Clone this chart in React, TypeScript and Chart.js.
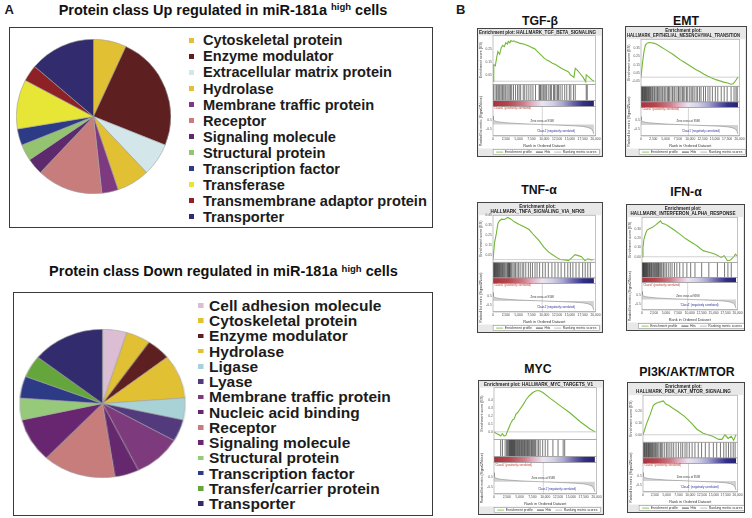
import React, { useEffect, useRef } from 'react';
import { Chart, registerables } from 'chart.js';

Chart.register(...registerables);
Chart.defaults.font.family = '"Liberation Sans", Arial, Helvetica, sans-serif';

// ---------- Panel A data ----------
const upLabels = ['Cytoskeletal protein', 'Enzyme modulator', 'Extracellular matrix protein', 'Hydrolase', 'Membrane traffic protein', 'Receptor', 'Signaling molecule', 'Structural protein', 'Transcription factor', 'Transferase', 'Transmembrane adaptor protein', 'Transporter'];
const upValues = [2, 7, 2, 2, 1, 4, 1, 1, 1, 3, 1, 4];
const upColors = ['#E2C033', '#5E1F20', '#D3E6EA', '#E2C033', '#7E3A80', '#C77D7C', '#5D2A6C', '#94C470', '#2D3A86', '#E7E535', '#8E2125', '#322C6E'];

const downLabels = ['Cell adhesion molecule', 'Cytoskeletal protein', 'Enzyme modulator', 'Hydrolase', 'Ligase', 'Lyase', 'Membrane traffic protein', 'Nucleic acid binding', 'Receptor', 'Signaling molecule', 'Structural protein', 'Transcription factor', 'Transfer/carrier protein', 'Transporter'];
const downValues = [1, 1, 1, 2, 1, 1, 2, 1, 3, 2, 1, 1, 1, 3];
const downColors = ['#DBBDD4', '#E2C033', '#5E1F20', '#E2C033', '#A9D2D6', '#533A7C', '#7D3A7C', '#65276E', '#C77D7C', '#67266F', '#97C97A', '#2D3A86', '#65A63C', '#322C6E'];

// ---------- Panel B data ----------
const rankTicks = [0, 2500, 5000, 7500, 10000, 12500, 15000, 17500, 20000];
const legendLabels = ['Enrichment profile', 'Hits', 'Ranking metric scores'];
const metricRank = [0, 100, 300, 800, 1500, 3000, 5000, 7500, 9598, 12000, 14000, 16000, 17500, 18500, 19200, 19500, 19700];
const metricValue = [0.9, 0.5, 0.38, 0.3, 0.24, 0.17, 0.1, 0.04, 0, -0.05, -0.09, -0.14, -0.2, -0.3, -0.45, -0.7, -1.0];

const tgfRank = [0, 150, 450, 700, 950, 1300, 1600, 1900, 2200, 2500, 2800, 3000, 3300, 3500, 3800, 4100, 4400, 4700, 5300, 6000, 6600, 7200, 7700, 8100, 8600, 9000, 9500, 10000, 10500, 11000, 11600, 12200, 12800, 13400, 13900, 14400, 14800, 15100, 15500, 15800, 16050, 16500, 17000, 17600, 18100, 18200, 18800, 19300, 19700];
const tgfES = [0, 0.13, 0.12, 0.18, 0.23, 0.21, 0.26, 0.28, 0.27, 0.3, 0.29, 0.31, 0.3, 0.317, 0.31, 0.315, 0.306, 0.305, 0.295, 0.29, 0.28, 0.27, 0.26, 0.255, 0.235, 0.22, 0.2, 0.18, 0.165, 0.155, 0.14, 0.13, 0.115, 0.1, 0.09, 0.08, 0.07, 0.05, 0.04, 0.03, 0.1, 0.085, 0.06, 0.03, -0.005, 0.05, 0.03, 0.01, 0];
const tgfHits = [100, 400, 700, 950, 1150, 1350, 1600, 1850, 2100, 2350, 2550, 2900, 3150, 3400, 3650, 4000, 4400, 4800, 5100, 5400, 5900, 6200, 6600, 7000, 7400, 7800, 8300, 9000, 9150, 9300, 9550, 9800, 10000, 10300, 10500, 10900, 11200, 11400, 11800, 12000, 12300, 12600, 12800, 13100, 13500, 14000, 14400, 14900, 15200, 15700, 16050, 18200, 18400];

const emtRank = [0, 300, 600, 900, 1200, 1600, 2100, 2700, 3300, 4000, 4800, 5600, 6400, 7200, 8000, 8800, 9600, 10400, 11200, 12000, 12800, 13600, 14400, 15200, 16000, 16800, 17600, 18300, 18700, 19000, 19300, 19700];
const emtES = [0, 0.17, 0.31, 0.39, 0.41, 0.42, 0.418, 0.41, 0.395, 0.37, 0.34, 0.31, 0.28, 0.245, 0.21, 0.18, 0.15, 0.12, 0.09, 0.065, 0.035, 0.01, -0.01, -0.03, -0.045, -0.06, -0.07, -0.085, -0.08, -0.06, -0.035, 0];
const emtHits = [40, 130, 260, 330, 450, 560, 690, 780, 900, 1010, 1150, 1230, 1380, 1500, 1640, 1790, 1900, 2080, 2300, 2450, 2700, 2850, 3100, 3350, 3520, 3800, 4050, 4300, 4480, 4800, 5050, 5350, 5600, 5750, 6100, 6400, 6700, 6900, 7300, 7600, 7750, 8100, 8400, 8600, 8900, 9250, 9500, 9900, 10200, 10500, 10800, 11200, 11500, 11900, 12200, 12700, 13100, 13600, 14000, 14500, 15100, 15600, 16300, 16900, 17500, 18300, 18900, 19300, 19550];

const tnfRank = [0, 320, 640, 960, 1280, 1730, 2240, 2880, 3520, 4160, 5120, 6080, 7040, 8000, 8960, 9920, 10880, 11840, 12500, 13120, 14080, 14720, 15360, 16000, 16640, 17280, 17920, 18560, 19200, 19600];
const tnfES = [0, 0.178, 0.26, 0.366, 0.394, 0.41, 0.407, 0.428, 0.41, 0.383, 0.356, 0.332, 0.305, 0.247, 0.195, 0.127, 0.075, 0.041, 0.02, 0, -0.003, -0.01, 0.017, 0.05, 0.04, 0.03, -0.01, 0.007, -0.003, 0];
const tnfHits = [60, 150, 260, 350, 420, 540, 620, 730, 850, 960, 1040, 1180, 1300, 1420, 1560, 1700, 1850, 2000, 2150, 2300, 2500, 2700, 2850, 3000, 3100, 3200, 3300, 3450, 3650, 3900, 4150, 4400, 4700, 5000, 5300, 5700, 6000, 6400, 6900, 7300, 7700, 8200, 8600, 9100, 9700, 10200, 10800, 11500, 12100, 12700, 13300, 14000, 14600, 15100, 15600, 16200, 16800, 17500, 18000, 18500, 19000];

const ifnRank = [0, 200, 400, 740, 1070, 1540, 2200, 2870, 3540, 3870, 4200, 4870, 5500, 6200, 6900, 7550, 8200, 8900, 9500, 10230, 10900, 11570, 12200, 12900, 13600, 14230, 14900, 15570, 16570, 17230, 17900, 18570, 19230, 19570, 19900];
const ifnES = [0, 0.1, 0.19, 0.25, 0.29, 0.305, 0.32, 0.347, 0.376, 0.39, 0.365, 0.355, 0.335, 0.31, 0.285, 0.26, 0.235, 0.205, 0.185, 0.16, 0.14, 0.117, 0.09, 0.064, 0.055, 0.046, 0.035, 0.021, -0.007, 0.011, -0.043, -0.035, 0, 0.028, 0.01];
const ifnHits = [50, 120, 200, 300, 380, 450, 550, 650, 760, 850, 950, 1070, 1180, 1300, 1450, 1560, 1700, 1850, 2000, 2150, 2350, 2500, 2650, 2850, 3000, 3150, 3300, 3450, 3600, 3800, 4000, 4200, 4500, 4800, 5100, 5500, 5900, 6300, 6800, 7300, 7900, 8600, 9400, 10200, 11100, 12500, 14000, 15800, 17300, 18000, 18700];

const mycRank = [0, 460, 990, 1320, 1640, 1970, 2300, 2630, 2960, 3290, 3620, 3950, 4280, 4600, 4930, 5600, 6250, 6900, 7570, 8230, 8880, 9540, 10860, 12830, 14800, 16780, 18750, 19740];
const mycES = [0, -0.02, -0.036, -0.052, -0.024, -0.052, -0.044, 0.008, 0.06, 0.109, 0.149, 0.161, 0.222, 0.238, 0.27, 0.33, 0.4, 0.45, 0.49, 0.512, 0.512, 0.49, 0.423, 0.33, 0.238, 0.129, 0.036, 0];
const mycHits = [1300, 1650, 2170, 2450, 2650, 2800, 2950, 3050, 3150, 3250, 3350, 3450, 3550, 3650, 3750, 3850, 3950, 4050, 4150, 4300, 4450, 4550, 4700, 4850, 4950, 5100, 5250, 5400, 5500, 5650, 5800, 5950, 6100, 6250, 6400, 6550, 6700, 6850, 7000, 7200, 7350, 7500, 7700, 7900, 8100, 8400, 8700, 9000, 9500, 10000, 10500, 11500, 12500, 13500, 13800];

const piRank = [0, 330, 725, 1190, 1520, 1850, 2180, 2510, 3170, 3830, 4290, 4820, 5480, 6470, 7460, 8780, 10100, 11420, 12740, 13730, 14720, 16040, 16700, 17360, 18020, 18680, 19200, 19670];
const piES = [0, 0.04, 0.09, 0.14, 0.17, 0.21, 0.247, 0.26, 0.273, 0.28, 0.286, 0.26, 0.247, 0.22, 0.195, 0.156, 0.104, 0.047, 0.013, 0, -0.013, -0.039, -0.039, 0, -0.031, -0.013, -0.047, 0];
const piHits = [80, 200, 330, 450, 600, 720, 850, 1000, 1150, 1250, 1400, 1550, 1700, 1850, 2000, 2200, 2400, 2600, 2750, 2950, 3150, 3400, 3700, 3950, 4200, 4600, 5000, 5300, 5700, 6100, 6500, 7000, 7500, 8000, 8400, 8900, 9300, 9800, 10400, 11000, 11700, 12400, 13200, 14000, 14900, 15600, 16400, 17100, 17600, 18100, 18600, 19100, 19500];

const FONT = '"Liberation Sans", Arial, Helvetica, sans-serif';
const ZERO_CROSS = 9598;
const ES_COLOR = '#72b836';

type Panel = {
  title: string; titleX: number; titleBase: number;
  box: [number, number, number, number];
  header: string[];
  rank: number[]; es: number[]; hits: number[];
  esMin: number; esMax: number; esStep: number; dec: number;
};

const panels: Panel[] = [
  { title: 'TGF-β', titleX: 540, titleBase: 25, box: [477, 28, 126, 129], header: ['Enrichment plot: HALLMARK_TGF_BETA_SIGNALING'], rank: tgfRank, es: tgfES, hits: tgfHits, esMin: -0.025, esMax: 0.355, esStep: 0.05, dec: 2 },
  { title: 'EMT', titleX: 686, titleBase: 25, box: [625, 26, 122, 131], header: ['Enrichment plot:', 'HALLMARK_EPITHELIAL_MESENCHYMAL_TRANSITION'], rank: emtRank, es: emtES, hits: emtHits, esMin: -0.11, esMax: 0.46, esStep: 0.05, dec: 2 },
  { title: 'TNF-α', titleX: 539, titleBase: 194, box: [477, 202, 126, 131], header: ['Enrichment plot:', 'HALLMARK_TNFA_SIGNALING_VIA_NFKB'], rank: tnfRank, es: tnfES, hits: tnfHits, esMin: -0.027, esMax: 0.45, esStep: 0.05, dec: 2 },
  { title: 'IFN-α', titleX: 686, titleBase: 196.5, box: [626, 204, 119, 127], header: ['Enrichment plot:', 'HALLMARK_INTERFERON_ALPHA_RESPONSE'], rank: ifnRank, es: ifnES, hits: ifnHits, esMin: -0.06, esMax: 0.43, esStep: 0.05, dec: 2 },
  { title: 'MYC', titleX: 538, titleBase: 373, box: [478, 380, 126, 135], header: ['Enrichment plot: HALLMARK_MYC_TARGETS_V1'], rank: mycRank, es: mycES, hits: mycHits, esMin: -0.093, esMax: 0.55, esStep: 0.1, dec: 1 },
  { title: 'PI3K/AKT/MTOR', titleX: 687, titleBase: 376.5, box: [627, 382, 118, 131], header: ['Enrichment plot:', 'HALLMARK_PI3K_AKT_MTOR_SIGNALING'], rank: piRank, es: piES, hits: piHits, esMin: -0.063, esMax: 0.334, esStep: 0.05, dec: 2 },
];

function T(props: { x: number; base: number; size: number; children: any; align?: 'left' | 'center'; weight?: string; color?: string }) {
  const { x, base, size, children, align = 'left', weight = 'bold', color = '#1a1a1a' } = props;
  const top = base - 0.8465 * size;
  const style: any = {
    position: 'absolute', top, fontSize: size, lineHeight: `${size}px`, fontWeight: weight,
    color, whiteSpace: 'nowrap', fontFamily: FONT,
  };
  if (align === 'center') { style.left = x - 300; style.width = 600; style.textAlign = 'center'; }
  else { style.left = x; }
  return <div style={style}>{children}</div>;
}

function PieChart(props: { values: number[]; colors: string[]; labels: string[]; size: number; left: number; top: number; scaleX?: number }) {
  const ref = useRef<HTMLCanvasElement>(null);
  useEffect(() => {
    const chart = new Chart(ref.current!, {
      type: 'pie',
      data: { labels: props.labels, datasets: [{ data: props.values, backgroundColor: props.colors, borderColor: '#a0a0a0', borderWidth: 0.6 }] },
      options: {
        responsive: false, animation: false, layout: { padding: 0 },
        plugins: { legend: { display: false }, tooltip: { enabled: false } },
      },
    });
    return () => chart.destroy();
  }, []);
  return (
    <div style={{ position: 'absolute', left: props.left, top: props.top, width: props.size, height: props.size, transform: `scaleX(${props.scaleX || 1})`, transformOrigin: 'center' }}>
      <canvas ref={ref} width={props.size} height={props.size} style={{ width: props.size, height: props.size, display: 'block' }} />
    </div>
  );
}

function Gsea({ p }: { p: Panel }) {
  const ref = useRef<HTMLCanvasElement>(null);
  const [bx, by, bw, bh] = p.box;
  const cw = bw - 2, ch = bh - 2;
  useEffect(() => {
    const LEG_H = 7.5;
    const stepFilter = (step: number) => (s: any) => {
      s.ticks = s.ticks.filter((t: any) => Math.abs(t.value / step - Math.round(t.value / step)) < 1e-6);
    };
    const fitW = (s: any) => { s.width = 14; };
    const decor = {
      id: 'decor',
      beforeDraw(chart: any) {
        const c = chart.ctx;
        c.save();
        c.fillStyle = '#e8e8e8';
        c.fillRect(0, 0, chart.width, chart.height);
        const t0 = chart.titleBlock ? chart.titleBlock.bottom : 0;
        const l0 = chart.height - LEG_H;
        c.fillStyle = '#ffffff';
        c.fillRect(1, t0, chart.width - 2, l0 - t0);
        c.restore();
      },
      afterDatasetsDraw(chart: any) {
        const c = chart.ctx;
        const ca = chart.chartArea;
        const sc = chart.scales;
        c.save();
        const y0 = sc.yES.getPixelForValue(0);
        c.strokeStyle = '#b0b0b0';
        c.lineWidth = 0.6;
        c.beginPath(); c.moveTo(ca.left, y0); c.lineTo(ca.right, y0); c.stroke();
        const xz = sc.x.getPixelForValue(ZERO_CROSS);
        c.setLineDash([1, 1]);
        c.strokeStyle = '#777';
        c.beginPath(); c.moveTo(xz, sc.yRank.top); c.lineTo(xz, sc.yRank.bottom); c.stroke();
        c.setLineDash([]);
        c.strokeStyle = '#9a9a9a';
        c.lineWidth = 0.6;
        for (const k of ['yES', 'yHits', 'yBar', 'yRank']) {
          const s = sc[k];
          c.strokeRect(ca.left, s.top, ca.right - ca.left, s.bottom - s.top);
        }
        c.font = `2.8px ${FONT}`;
        c.textBaseline = 'top';
        c.fillStyle = '#c0392b';
        c.textAlign = 'left';
        c.fillText("'Class0' (positively correlated)", ca.left + 1, sc.yRank.top + 0.8);
        c.fillStyle = '#333';
        c.textAlign = 'center';
        c.fillText(`Zero cross at ${ZERO_CROSS}`, xz, sc.yRank.top + (sc.yRank.bottom - sc.yRank.top) * 0.45);
        c.fillStyle = '#2a2a9a';
        c.textAlign = 'right';
        c.fillText("'Class1' (negatively correlated)", sc.x.getPixelForValue(16000), sc.yRank.bottom - 6);
        c.restore();
      },
      afterDraw(chart: any) {
        const c = chart.ctx;
        const ca = chart.chartArea;
        c.save();
        c.font = `3.4px ${FONT}`;
        const colors = [ES_COLOR, '#222', '#aaa'];
        const lineW = 7, g1 = 1.5, g2 = 4;
        const widths = legendLabels.map((t) => c.measureText(t).width);
        const total = widths.reduce((a, w) => a + lineW + g1 + w, 0) + g2 * (legendLabels.length - 1);
        const boxW = total + 6;
        const cx = (ca.left + ca.right) / 2 + 2;
        const bx0 = cx - boxW / 2;
        const by0 = chart.height - LEG_H + 1.2;
        const bh0 = 4.8;
        c.fillStyle = '#fff';
        c.fillRect(bx0, by0, boxW, bh0);
        c.strokeStyle = '#888';
        c.lineWidth = 0.5;
        c.strokeRect(bx0, by0, boxW, bh0);
        let x = bx0 + 3;
        const ym = by0 + bh0 / 2;
        c.textBaseline = 'middle';
        c.textAlign = 'left';
        legendLabels.forEach((t, i) => {
          c.strokeStyle = colors[i];
          c.lineWidth = 0.8;
          c.beginPath(); c.moveTo(x, ym); c.lineTo(x + lineW, ym); c.stroke();
          x += lineW + g1;
          c.fillStyle = '#333';
          c.fillText(t, x, ym + 0.2);
          x += widths[i] + g2;
        });
        c.restore();
      },
    };
    const barGradient = (ctx: any) => {
      const ca = ctx.chart.chartArea;
      if (!ca) return '#b0a0c0';
      const g = ctx.chart.ctx.createLinearGradient(ca.left, 0, ca.right, 0);
      g.addColorStop(0, '#a8323f');
      g.addColorStop(0.15, '#b7474f');
      g.addColorStop(0.3, '#cf7e8b');
      g.addColorStop(0.38, '#e2aec2');
      g.addColorStop(0.48, '#ece4f0');
      g.addColorStop(0.58, '#d2d0e8');
      g.addColorStop(0.68, '#a9a6d2');
      g.addColorStop(0.78, '#6a66ad');
      g.addColorStop(0.88, '#35318a');
      g.addColorStop(1, '#23206e');
      return g;
    };
    const tickFont = { size: 3.3 };
    const noGrid = { display: false, drawTicks: false, tickLength: 0 };
    const chart = new Chart(ref.current!, {
      type: 'scatter',
      data: {
        datasets: [
          {
            data: p.rank.map((r, i) => ({ x: r, y: p.es[i] })), yAxisID: 'yES', showLine: true,
            borderColor: ES_COLOR, backgroundColor: ES_COLOR, borderWidth: 1.1, pointRadius: 0,
          },
          {
            data: p.hits.map((h) => ({ x: h, y: 0.5 })), yAxisID: 'yHits',
            pointStyle: 'line', pointRotation: 90, borderColor: '#1e1e1e', pointBorderColor: '#1e1e1e', pointBorderWidth: 0.6,
            pointRadius: (ctx: any) => { const s = ctx.chart.scales.yHits; return s ? (s.bottom - s.top) / 2 : 6; },
          },
          {
            data: [{ x: 0, y: 1 }, { x: 19700, y: 1 }], yAxisID: 'yBar', showLine: true, fill: 'origin',
            backgroundColor: barGradient, borderWidth: 0, pointRadius: 0,
          },
          {
            data: metricRank.map((r, i) => ({ x: r, y: metricValue[i] })), yAxisID: 'yRank', showLine: true, fill: 'origin',
            backgroundColor: '#d2d2d2', borderColor: '#8c8c8c', borderWidth: 0.6, pointRadius: 0,
          },
        ],
      } as any,
      options: {
        responsive: false, animation: false,
        layout: { padding: { left: 1, right: 6, top: 0, bottom: LEG_H } },
        plugins: {
          tooltip: { enabled: false },
          legend: { display: false },
          title: { display: true, text: p.header, font: { size: 4.6, weight: 'bold', lineHeight: 1.2 }, color: '#222', padding: { top: 0.6, bottom: 0.6 } },
        },
        scales: {
          x: {
            type: 'linear', min: 0, max: 20000, grid: noGrid, border: { display: true, color: '#999', width: 0.6 },
            afterBuildTicks: (s: any) => { s.ticks = rankTicks.map((v) => ({ value: v })); },
            ticks: { autoSkip: false, maxRotation: 0, font: tickFont, color: '#444', padding: 1.5, callback: (v: any) => Number(v).toLocaleString('en-US') },
            title: { display: true, text: 'Rank in Ordered Dataset', font: { size: 3.8 }, color: '#333', padding: { top: 0.5, bottom: 0.5 } },
          },
          yRank: {
            type: 'linear', stack: 'g', stackWeight: 31, min: -1.2, max: 1.9, position: 'left',
            grid: noGrid, border: { display: false }, afterFit: fitW, afterBuildTicks: stepFilter(0.5),
            ticks: { stepSize: 0.5, font: tickFont, color: '#555', padding: 1.2, callback: (v: any) => Number(v).toFixed(1) },
            title: { display: true, text: 'Ranked list metric (Signal2Noise)', font: { size: 3.4 }, color: '#333', padding: 0 },
          },
          yBar: {
            type: 'linear', stack: 'g', stackWeight: 6, min: 0, max: 1, position: 'left',
            grid: noGrid, border: { display: false }, ticks: { display: false }, afterFit: fitW,
          },
          yHits: {
            type: 'linear', stack: 'g', stackWeight: 17, min: 0, max: 1, position: 'left',
            grid: noGrid, border: { display: false }, ticks: { display: false }, afterFit: fitW,
          },
          yES: {
            type: 'linear', stack: 'g', stackWeight: 51, min: p.esMin, max: p.esMax, position: 'left',
            grid: noGrid, border: { display: false }, afterFit: fitW, afterBuildTicks: stepFilter(p.esStep),
            ticks: { stepSize: p.esStep, font: tickFont, color: '#555', padding: 1.2, callback: (v: any) => Number(v).toFixed(p.dec) },
            title: { display: true, text: 'Enrichment score (ES)', font: { size: 3.6 }, color: '#333', padding: 0 },
          },
        },
      } as any,
      plugins: [decor],
    });
    return () => chart.destroy();
  }, []);
  return (
    <>
      <T x={p.titleX} base={p.titleBase} size={12.3} align="center" color="#111">{p.title}</T>
      <div style={{ position: 'absolute', left: bx, top: by, width: bw, height: bh, boxSizing: 'border-box', border: '1px solid #444', background: '#e8e8e8' }}>
        <canvas ref={ref} width={cw} height={ch} style={{ width: cw, height: ch, display: 'block' }} />
      </div>
    </>
  );
}

export default function App() {
  const upBase0 = 45.7, upStep = 16.06;
  const dnBase0 = 310.7, dnStep = 15.25;
  return (
    <div style={{ position: 'absolute', left: 0, top: 0, width: 752, height: 518, background: '#fff', overflow: 'hidden', fontFamily: FONT }}>
      <T x={4.5} base={14.5} size={13}>A</T>
      <T x={456} base={14.5} size={13}>B</T>

      <T x={223} base={15} size={14.5} align="center" color="#111">
        Protein class Up regulated in miR-181a <span style={{ fontSize: 9.5, position: 'relative', top: -4.5 }}>high</span> cells
      </T>
      <div style={{ position: 'absolute', left: 9, top: 27, width: 424, height: 201, boxSizing: 'border-box', border: '1px solid #3a3a3a' }} />
      <PieChart values={upValues} colors={upColors} labels={upLabels} size={155} left={16} top={39} />
      {upLabels.map((l, i) => (
        <React.Fragment key={l}>
          <div style={{ position: 'absolute', left: 189, top: upBase0 + i * upStep - 8, width: 5, height: 5, background: upColors[i] }} />
          <T x={203} base={upBase0 + i * upStep} size={14.6} color="#1c1c1c">{l}</T>
        </React.Fragment>
      ))}

      <T x={223.5} base={276.5} size={14.5} align="center" color="#111">
        Protein class Down regulated in miR-181a <span style={{ fontSize: 9.5, position: 'relative', top: -4.5 }}>high</span> cells
      </T>
      <div style={{ position: 'absolute', left: 13, top: 292, width: 420, height: 224, boxSizing: 'border-box', border: '1px solid #3a3a3a' }} />
      <PieChart values={downValues} colors={downColors} labels={downLabels} size={149} left={27.5} top={328.5} scaleX={1.114} />
      <div style={{ position: 'absolute', left: 198, top: 0, width: 230, height: 518, transform: 'scaleX(1.107)', transformOrigin: 'left top' }}>
        {downLabels.map((l, i) => (
          <React.Fragment key={l}>
            <div style={{ position: 'absolute', left: 0, top: dnBase0 + i * dnStep - 7.5, width: 4.5, height: 4.5, background: downColors[i] }} />
            <T x={10} base={dnBase0 + i * dnStep} size={14} color="#1c1c1c">{l}</T>
          </React.Fragment>
        ))}
      </div>

      {panels.map((p) => <Gsea key={p.title} p={p} />)}
    </div>
  );
}
